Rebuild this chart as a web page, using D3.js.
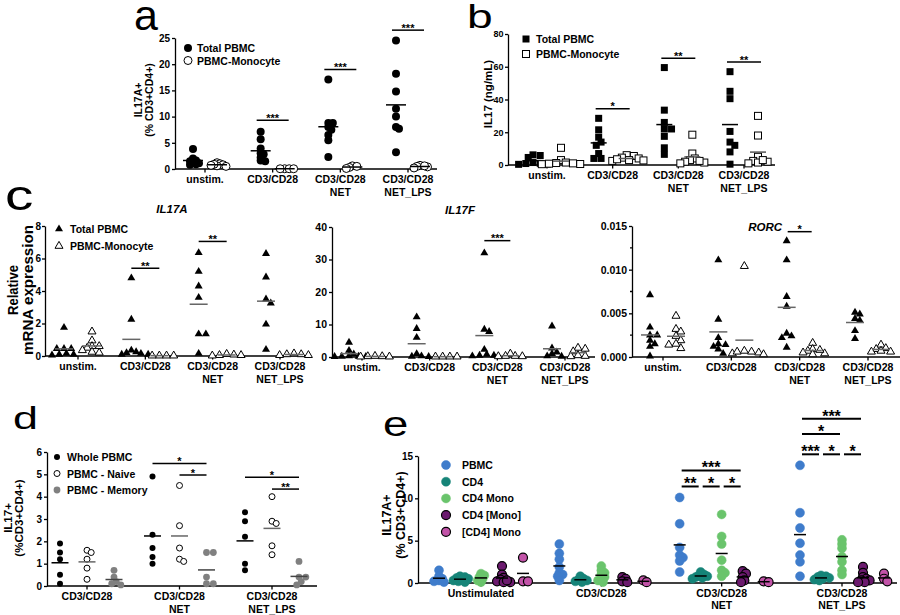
<!DOCTYPE html>
<html>
<head>
<meta charset="utf-8">
<script src="https://cdn.jsdelivr.net/npm/d3@7"></script>
<style>
body { margin: 0; background: #fff; }
svg { font-family: "Liberation Sans", Arial, sans-serif; }
.axis path, .axis line { stroke: #000; stroke-width: 1.3; }
.axis text { font-weight: bold; fill: #000; }
</style>
</head>
<body>
<script>
// categories
var catsABC = ["unstim.", "CD3/CD28", "CD3/CD28\nNET", "CD3/CD28\nNET_LPS"];
var catsD = ["CD3/CD28", "CD3/CD28\nNET", "CD3/CD28\nNET_LPS"];
var catsE = ["Unstimulated", "CD3/CD28", "CD3/CD28\nNET", "CD3/CD28\nNET_LPS"];

var namesAB = ["Total PBMC", "PBMC-Monocyte"];
var namesD = ["Whole PBMC", "PBMC - Naive", "PBMC - Memory"];
var namesE = ["PBMC", "CD4", "CD4 Mono", "CD4 [Mono]", "[CD4] Mono"];

// panel a : IL17A+ (% CD3+CD4+)
var aTotal = [[3.8, 2.0, 1.6, 1.3, 1.1, 0.9, 0.8, 1.5],
              [7.1, 5.7, 3.9, 3.0, 2.8, 2.2, 1.6, 1.5],
              [17.1, 8.8, 8.8, 8.0, 7.5, 6.5, 5.5, 2.3],
              [24.5, 18.2, 14.8, 11.5, 10.0, 8.0, 7.7, 3.2]];
var aMono = [[1.2, 1.0, 0.8, 0.6, 0.5, 0.9, 0.7],
             [0.05, 0.05, 0.05, 0.05],
             [0.6, 0.5, 0.3, 0.1],
             [0.7, 0.5, 0.4, 0.2, 0.6]];

// panel b : IL17 (ng/mL)
var bTotal = [[6.2, 5.8, 4.6, 1.5, 1.0, 0.6, 0.4, 0.9],
              [28.5, 21.5, 17.0, 14.0, 12.0, 7.0, 4.0, 4.0],
              [59.5, 33.5, 26.0, 22.0, 22.0, 17.5, 10.5, 6.5],
              [57.0, 45.0, 40.5, 20.5, 14.0, 12.0, 8.0, 0.5]];
var bMono = [[10.5, 3.0, 1.5, 1.0, 0.8, 0.5, 1.2, 0.6],
             [6.0, 5.5, 4.5, 4.0, 3.0, 2.8, 2.5, 3.5],
             [18.5, 7.0, 4.0, 3.0, 2.0, 1.5, 1.0, 2.5],
             [30.0, 18.0, 5.0, 2.5, 2.0, 1.5, 1.0, 3.0]];

// panel c : relative mRNA expression
var il17aTotal = [[1.75, 0.45, 0.45, 0.45, 0.1, 0.05, 0.1, 0.15],
                  [4.8, 2.25, 0.35, 0.25, 0.2, 0.15, 0.1, 0.1],
                  [6.35, 5.2, 4.3, 3.6, 1.35, 1.35, 0.15],
                  [6.3, 4.85, 3.5, 3.25, 1.95, 0.4]];
var il17aMono = [[1.5, 0.95, 0.6, 0.5, 0.35, 0.25, 0.2, 0.6],
                 [0.02, 0.02, 0.02, 0.02],
                 [0.12, 0.05, 0.02, 0.05, 0.08],
                 [0.15, 0.1, 0.05, 0.1, 0.05]];
var il17fTotal = [[4.5, 2.0, 0.9, 0.3, 0.2, 0.1, 0.2, 0.1],
                  [12.3, 8.7, 6.0, 1.0, 0.2, 0.1, 0.3],
                  [32.0, 8.5, 7.8, 2.3, 0.8, 0.5, 0.3, 0.5],
                  [9.5, 2.7, 1.5, 1.0, 0.3, 0.2]];
var il17fMono = [[0.3, 0.2, 0.1, 0.2, 0.1],
                 [0.1, 0.1, 0.1, 0.1],
                 [1.0, 0.3, 0.2, 0.3, 0.2],
                 [2.8, 2.5, 1.7, 0.5, 0.2, 0.3]];
var rorcTotal = [[0.0071, 0.0034, 0.0025, 0.0025, 0.0019, 0.0015, 0.0012, 0.0001],
                 [0.0111, 0.0043, 0.0022, 0.0015, 0.0014, 0.0012, 0.0009, 0.0004],
                 [0.0133, 0.0111, 0.0069, 0.0058, 0.0027, 0.0024, 0.0022, 0.0011],
                 [0.0051, 0.0049, 0.0044, 0.0042, 0.0030, 0.0021]];
var rorcMono = [[0.0047, 0.0032, 0.0029, 0.0024, 0.0019, 0.0014, 0.0010, 0.0015],
                [0.0104, 0.0007, 0.0006, 0.0005, 0.0004, 0.0006, 0.0003],
                [0.0016, 0.0009, 0.0007, 0.0005, 0.0004, 0.0003, 0.0008],
                [0.0014, 0.0010, 0.0009, 0.0007, 0.0006, 0.0006]];

// panel d : IL17+ (%CD3+CD4+)
var dWhole = [[1.9, 1.5, 1.2, 0.5, 0.1], [4.9, 2.3, 1.7, 1.3, 1.0], [3.3, 2.9, 2.2, 1.0, 0.7]];
var dNaive = [[1.6, 1.5, 1.2, 0.8, 0.3], [4.5, 2.7, 1.7, 1.2, 1.1], [4.0, 2.9, 2.8, 1.8, 1.4]];
var dMemory = [[0.7, 0.4, 0.2, 0.1, 0.05], [1.5, 1.5, 0.4, 0.1, 0.1], [1.1, 0.4, 0.4, 0.2, 0.05]];

// panel e : IL17A+ (% CD3+CD4+)
var ePBMC = [[1.5, 0.8, 0.5, 0.3, 0.1, 0.2],
             [4.6, 3.5, 2.8, 1.9, 1.2, 1.0, 0.8, 0.3],
             [10.1, 7.0, 4.2, 3.3, 3.0, 2.6, 1.3],
             [13.9, 8.3, 6.5, 4.7, 3.3, 2.5, 0.8]];
var eCD4 = [[0.8, 0.7, 0.6, 0.5, 0.4, 0.3, 0.2, 0.1],
            [0.8, 0.5, 0.4, 0.3, 0.2, 0.1],
            [1.3, 1.0, 0.9, 0.8, 0.7, 0.6, 0.5],
            [0.9, 0.8, 0.7, 0.6, 0.5, 0.4, 0.3]];
var eCD4Mono = [[1.1, 0.9, 0.7, 0.5, 0.3, 0.1],
                [2.0, 1.5, 1.2, 1.0, 0.7, 0.5, 0.3, 0.1],
                [8.1, 5.5, 4.6, 2.7, 1.5, 1.2, 0.8],
                [5.1, 4.6, 4.1, 3.1, 2.5, 1.5, 1.0]];
var eCD4MonoIn = [[2.0, 1.0, 0.6, 0.4, 0.2, 0.1, 0.1, 0.3],
                  [0.7, 0.5, 0.2, 0.1],
                  [1.4, 1.1, 0.7, 0.3, 0.1],
                  [1.9, 1.2, 0.7, 0.5, 0.3, 0.3, 0.1, 0.1]];
var eMonoCD4In = [[3.0, 0.2, 0.2], [0.3, 0.1], [0.2, 0.1], [1.1, 0.5, 0.2]];

// tick labels
var ticksA = [0, 5, 10, 15, 20, 25];
var ticksB = [0, 20, 40, 60, 80];
var ticksIL17A = [0, 2, 4, 6, 8];
var ticksIL17F = [0, 10, 20, 30, 40];
var ticksRORC = [0, 0.005, 0.010, 0.015];
var minorRORC = [0.0025, 0.0075, 0.0125];
var ticksD = [0, 1, 2, 3, 4, 5, 6];
var ticksE = [0, 5, 10, 15];

// significance annotations
var sigA = [{cat: 1, from: 0, to: 1, y: 9.3, label: "***"},
            {cat: 2, from: 0, to: 1, y: 19.0, label: "***"},
            {cat: 3, from: 0, to: 1, y: 26.5, label: "***"}];
var sigB = [{cat: 1, from: 0, to: 1, y: 34.4, label: "*"},
            {cat: 2, from: 0, to: 1, y: 65.2, label: "**"},
            {cat: 3, from: 0, to: 1, y: 62.9, label: "**"}];
var sigIL17A = [{cat: 1, from: 0, to: 1, y: 5.4, label: "**"},
                {cat: 2, from: 0, to: 1, y: 7.05, label: "**"}];
var sigIL17F = [{cat: 2, from: 0, to: 1, y: 35.8, label: "***"}];
var sigRORC = [{cat: 2, from: 0, to: 1, y: 0.01435, label: "*"}];
var sigD = [{cat: 1, from: 0, to: 2, y: 5.49, label: "*"},
            {cat: 1, from: 1, to: 2, y: 4.97, label: "*"},
            {cat: 2, from: 0, to: 2, y: 4.87, label: "*"},
            {cat: 2, from: 1, to: 2, y: 4.34, label: "**"}];
var sigE = [{cat: 2, from: 0, to: 3, y: 13.3, label: "***"},
            {cat: 2, from: 0, to: 1, y: 11.4, label: "**"},
            {cat: 2, from: 1, to: 2, y: 11.4, label: "*"},
            {cat: 2, from: 2, to: 3, y: 11.4, label: "*"},
            {cat: 3, from: 0, to: 3, y: 19.4, label: "***"},
            {cat: 3, from: 0, to: 2, y: 17.6, label: "*"},
            {cat: 3, from: 0, to: 1, y: 15.2, label: "***"},
            {cat: 3, from: 1, to: 2, y: 15.2, label: "*"},
            {cat: 3, from: 2, to: 3, y: 15.2, label: "*"}];

var svg = d3.select("body").append("svg")
  .attr("width", 900)
  .attr("height", 615);

// simple beeswarm: horizontal offsets so markers do not pile up completely
function swarm(vals, y, r) {
  var order = vals.map(function(v, i) { return i; }).sort(function(a, b) { return vals[b] - vals[a]; });
  var placed = [], dx = [];
  order.forEach(function(i) {
    var py = y(vals[i]);
    for (var k = 0; k < 60; k++) {
      var cand = (k % 2 ? 1 : -1) * Math.ceil(k / 2) * r * 0.6;
      var ok = placed.every(function(q) {
        return (q.x - cand) * (q.x - cand) + (q.y - py) * (q.y - py) >= (1.25 * r) * (1.25 * r);
      });
      if (ok) { dx[i] = cand; placed.push({x: cand, y: py}); break; }
    }
  });
  return dx;
}

function marker(g, s, cx, cy) {
  var m;
  if (s.shape == "circle") {
    m = g.append("circle").attr("cx", cx).attr("cy", cy).attr("r", s.size);
  } else if (s.shape == "square") {
    m = g.append("rect").attr("x", cx - s.size / 2).attr("y", cy - s.size / 2)
      .attr("width", s.size).attr("height", s.size);
  } else {
    m = g.append("path").attr("d", d3.symbol(d3.symbolTriangle, s.size * s.size * 0.433)())
      .attr("transform", "translate(" + cx + "," + cy + ")");
  }
  m.style("fill", s.fill).style("stroke", s.stroke || "none").style("stroke-width", s.sw || 1);
  return m;
}

function dotPanel(p) {
  var g = svg.append("g");
  var x = d3.scalePoint().domain(p.cats).range(p.xr);
  var y = d3.scaleLinear().domain(p.yd).range([p.y0, p.y1]);

  var yAxis = d3.axisLeft(y).tickValues(p.ticks).tickSize(3).tickPadding(p.tpad || 2).tickSizeOuter(0)
    .tickFormat(p.fmt || d3.format("d"));
  var ya = g.append("g").attr("class", "axis")
    .attr("transform", "translate(" + p.ax + ",0)")
    .call(yAxis);
  ya.selectAll("text").style("font-size", (p.tfs || 10) + "px");
  (p.minor || []).forEach(function(v) {
    ya.append("line").attr("x1", -2).attr("x2", 0).attr("y1", y(v)).attr("y2", y(v));
  });

  // x axis line and category labels
  var xa = g.append("g").attr("class", "axis");
  xa.append("line").attr("x1", p.ax).attr("x2", p.axEnd).attr("y1", p.y0).attr("y2", p.y0);
  p.cats.forEach(function(c) {
    xa.append("line").attr("x1", x(c)).attr("x2", x(c)).attr("y1", p.y0).attr("y2", p.y0 + 3.5);
    var t = xa.append("text").attr("text-anchor", "middle")
      .style("font-size", (p.xfs || 10.5) + "px");
    c.split("\n").forEach(function(line, li) {
      t.append("tspan").attr("x", x(c)).attr("y", p.y0 + 14 + li * (p.lh || 13)).text(line);
    });
  });

  // points and mean lines
  p.series.forEach(function(s, si) {
    s.data.forEach(function(vals, ci) {
      var cx = x(p.cats[ci]) + p.off[si];
      var dxs = swarm(vals, y, s.r || s.size / 2 + 0.5);
      vals.forEach(function(v, i) { marker(g, s, cx + dxs[i], y(v)); });
      var m = d3.mean(vals);
      g.append("line").attr("x1", cx - p.mw / 2).attr("x2", cx + p.mw / 2)
        .attr("y1", y(m)).attr("y2", y(m))
        .style("stroke", s.mc).style("stroke-width", 1.5);
    });
  });

  // significance bars
  (p.sig || []).forEach(function(b) {
    var cx = x(p.cats[b.cat]);
    var x1 = cx + p.off[b.from] - (p.ext || 0) + (p.shrink || 0);
    var x2 = cx + p.off[b.to] + (p.ext || 0) - (p.shrink || 0);
    g.append("line").attr("x1", x1).attr("x2", x2).attr("y1", y(b.y)).attr("y2", y(b.y))
      .style("stroke", "#000").style("stroke-width", p.bw || 1.5);
    g.append("text").attr("x", (x1 + x2) / 2).attr("y", y(b.y) + (p.ldy || 1.5))
      .attr("text-anchor", "middle").style("font-weight", "bold")
      .style("font-size", (p.lfs || 11) + "px").text(b.label);
  });

  // legend
  if (p.legend) {
    p.series.forEach(function(s, si) {
      var ly = p.legend.y + si * p.legend.dy;
      var ls = Object.assign({}, s, {size: s.lsize || s.size});
      marker(g, ls, p.legend.x, ly);
      g.append("text").attr("x", p.legend.tx).attr("y", ly + 4)
        .style("font-weight", "bold").style("font-size", (p.legend.fs || 10.5) + "px")
        .text(p.names[si]);
    });
  }

  // y title
  (p.ylab || []).forEach(function(l) {
    var t = g.append("text").attr("transform", "translate(" + l.x + "," + l.y + ") rotate(-90)")
      .attr("text-anchor", "middle").style("font-weight", "bold")
      .style("font-size", l.fs + "px").text(l.text);
    if (l.len) t.attr("textLength", l.len).attr("lengthAdjust", "spacingAndGlyphs");
  });
  return g;
}

function panelLetter(t, x, y, fs, sx) {
  svg.append("text").attr("transform", "translate(" + x + "," + y + ") scale(" + sx + ",1)")
    .style("font-size", fs + "px").text(t);
}

function geneTitle(t, x, y, anchor) {
  svg.append("text").attr("x", x).attr("y", y).attr("text-anchor", anchor)
    .style("font-weight", "bold").style("font-style", "italic").style("font-size", "11.5px").text(t);
}

// ---- panel a
dotPanel({
  cats: catsABC, xr: [205, 408], ax: 175, axEnd: 437, y0: 169, y1: 38, yd: [0, 25], ticks: ticksA,
  off: [-12, 12], mw: 20, sig: sigA, ext: 4, names: namesAB,
  legend: {x: 188, y: 48, dy: 12.5, tx: 197},
  series: [{data: aTotal, shape: "circle", size: 4, fill: "#000", mc: "#000"},
           {data: aMono, shape: "circle", size: 4, fill: "#fff", stroke: "#000", mc: "#000"}],
  ylab: [{text: "IL17A+", x: 142, y: 100, fs: 10.5}, {text: "(% CD3+CD4+)", x: 153, y: 100, fs: 10.5}]
});
panelLetter("a", 134, 30, 43, 1);

// ---- panel b
dotPanel({
  cats: catsABC, xr: [547, 744], ax: 508, axEnd: 775, y0: 165, y1: 34, yd: [0, 80], ticks: ticksB,
  off: [-14, 14], mw: 16, sig: sigB, ext: 3, names: namesAB, tfs: 9, tpad: 1.5,
  legend: {x: 526, y: 39, dy: 15, tx: 536},
  series: [{data: bTotal, shape: "square", size: 7, r: 4, fill: "#000", mc: "#000"},
           {data: bMono, shape: "square", size: 7, r: 4, fill: "#fff", stroke: "#000", mc: "#555"}],
  ylab: [{text: "IL17 (ng/mL)", x: 492, y: 94, fs: 11.5}]
});
panelLetter("b", 467, 28, 33, 1.4);

// ---- panel c
dotPanel({
  cats: catsABC, xr: [78, 280], ax: 45, axEnd: 307, y0: 356, y1: 226, yd: [0, 8], ticks: ticksIL17A,
  off: [-14, 14], mw: 18, sig: sigIL17A, ext: 0, names: namesAB, tpad: 1,
  legend: {x: 59, y: 229, dy: 17, tx: 70},
  series: [{data: il17aTotal, shape: "triangle", size: 8, r: 4, fill: "#000", mc: "#666"},
           {data: il17aMono, shape: "triangle", size: 8, r: 4, fill: "#fff", stroke: "#000", mc: "#666"}],
  ylab: [{text: "Relative", x: 18, y: 290, fs: 15, len: 50},
         {text: "mRNA expression", x: 33, y: 290, fs: 15, len: 130}]
});
dotPanel({
  cats: catsABC, xr: [362, 565], ax: 332, axEnd: 595, y0: 357, y1: 227, yd: [0, 40], ticks: ticksIL17F,
  off: [-13, 13], mw: 18, sig: sigIL17F, ext: 0, tfs: 10.5,
  series: [{data: il17fTotal, shape: "triangle", size: 8, r: 4, fill: "#000", mc: "#666"},
           {data: il17fMono, shape: "triangle", size: 8, r: 4, fill: "#fff", stroke: "#000", mc: "#666"}]
});
dotPanel({
  cats: catsABC, xr: [663, 868], ax: 632, axEnd: 900, y0: 357, y1: 226, yd: [0, 0.015], ticks: ticksRORC,
  minor: minorRORC, fmt: d3.format(".3f"), tfs: 10.5,
  off: [-13, 13], mw: 18, sig: sigRORC, ext: -1,
  series: [{data: rorcTotal, shape: "triangle", size: 8, r: 4, fill: "#000", mc: "#666"},
           {data: rorcMono, shape: "triangle", size: 8, r: 4, fill: "#fff", stroke: "#000", mc: "#666"}]
});
panelLetter("c", 5, 210, 42, 1.35);
geneTitle("IL17A", 172, 213, "middle");
geneTitle("IL17F", 460, 214, "middle");
geneTitle("RORC", 782, 231, "end");

// ---- panel d
dotPanel({
  cats: catsD, xr: [87, 272], ax: 47, axEnd: 317, y0: 586, y1: 452, yd: [0, 6], ticks: ticksD,
  off: [-27, 0, 27], mw: 17, sig: sigD, ext: 0, names: namesD,
  legend: {x: 57, y: 457, dy: 16.5, tx: 67},
  series: [{data: dWhole, shape: "circle", size: 3, r: 3.5, fill: "#000", mc: "#000"},
           {data: dNaive, shape: "circle", size: 3, r: 3.5, fill: "#fff", stroke: "#000", mc: "#666"},
           {data: dMemory, shape: "circle", size: 3.4, r: 3.8, fill: "#808080", mc: "#444"}],
  ylab: [{text: "IL17+", x: 12, y: 518, fs: 11.5}, {text: "(%CD3+CD4+)", x: 23, y: 518, fs: 11.5}]
});
panelLetter("d", 13, 429, 31, 1.45);

// ---- panel e
dotPanel({
  cats: catsE, xr: [481, 842], ax: 418, axEnd: 897, y0: 583, y1: 456, yd: [0, 15], ticks: ticksE,
  lh: 12, off: [-42, -21, 0, 21, 42], mw: 12, sig: sigE, shrink: 2, bw: 2,
  lfs: 16, ldy: 3, names: namesE,
  legend: {x: 446, y: 465, dy: 16.7, tx: 462, fs: 10.5},
  series: [{data: ePBMC, shape: "circle", size: 4.5, fill: "#3f7ccb", stroke: "#3f7ccb", sw: 0.5, mc: "#000"},
           {data: eCD4, shape: "circle", size: 4.5, fill: "#168478", stroke: "#168478", sw: 0.5, mc: "#000"},
           {data: eCD4Mono, shape: "circle", size: 4.5, fill: "#6ac46c", stroke: "#6ac46c", sw: 0.5, mc: "#000"},
           {data: eCD4MonoIn, shape: "circle", size: 4.5, fill: "#6b1a6e", stroke: "#000", sw: 1.2, mc: "#000"},
           {data: eMonoCD4In, shape: "circle", size: 4.5, fill: "#c253a8", stroke: "#000", sw: 1.2, mc: "#000"}],
  ylab: [{text: "IL17A+", x: 391, y: 515, fs: 12.5}, {text: "(% CD3+CD4+)", x: 405, y: 515, fs: 12.5}]
});
panelLetter("e", 383, 436, 35, 1.3);
</script>
</body>
</html>
